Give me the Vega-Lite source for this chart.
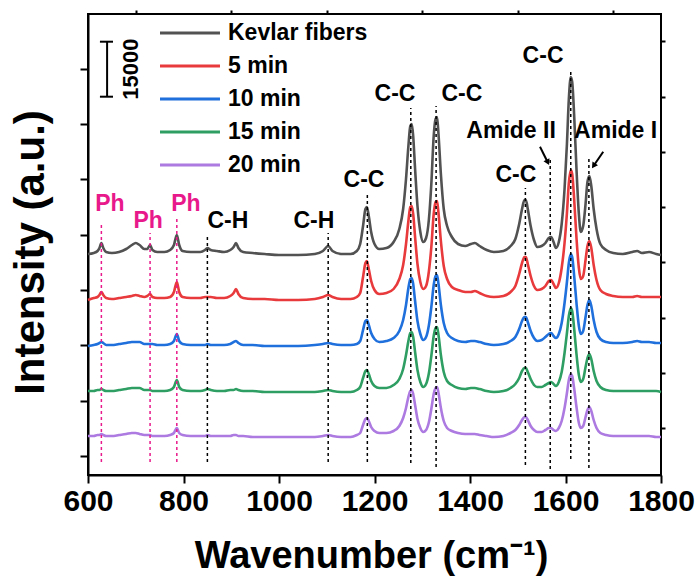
{
"$schema":"https://vega.github.io/schema/vega-lite/v6.json",
"width":573,"height":461,
"autosize":{"type":"none"},
"padding":{"left":88,"top":14,"right":37,"bottom":101},
"background":"white",
"config":{"view":{"stroke":"black","strokeWidth":2},"font":"Liberation Sans"},
"datasets":{
"spec":[
{"x":600,"s":"Kevlar fibers","y":202},{"x":612,"s":"Kevlar fibers","y":203},{"x":620,"s":"Kevlar fibers","y":205},{"x":624,"s":"Kevlar fibers","y":208},{"x":628,"s":"Kevlar fibers","y":213},{"x":632,"s":"Kevlar fibers","y":208},{"x":638,"s":"Kevlar fibers","y":204},{"x":650,"s":"Kevlar fibers","y":203},{"x":665,"s":"Kevlar fibers","y":204},{"x":680,"s":"Kevlar fibers","y":207},
{"x":692,"s":"Kevlar fibers","y":211},{"x":700,"s":"Kevlar fibers","y":213},{"x":708,"s":"Kevlar fibers","y":211},{"x":718,"s":"Kevlar fibers","y":207},{"x":724,"s":"Kevlar fibers","y":207},{"x":730,"s":"Kevlar fibers","y":211},{"x":735,"s":"Kevlar fibers","y":206},{"x":745,"s":"Kevlar fibers","y":204},{"x":760,"s":"Kevlar fibers","y":204},{"x":772,"s":"Kevlar fibers","y":206},
{"x":780,"s":"Kevlar fibers","y":211},{"x":786,"s":"Kevlar fibers","y":221},{"x":791,"s":"Kevlar fibers","y":211},{"x":798,"s":"Kevlar fibers","y":205},{"x":815,"s":"Kevlar fibers","y":204},{"x":835,"s":"Kevlar fibers","y":204},{"x":845,"s":"Kevlar fibers","y":206},{"x":850,"s":"Kevlar fibers","y":208},{"x":857,"s":"Kevlar fibers","y":206},{"x":870,"s":"Kevlar fibers","y":205},
{"x":885,"s":"Kevlar fibers","y":204},{"x":898,"s":"Kevlar fibers","y":206},{"x":905,"s":"Kevlar fibers","y":209},{"x":910,"s":"Kevlar fibers","y":213},{"x":915,"s":"Kevlar fibers","y":208},{"x":925,"s":"Kevlar fibers","y":204},{"x":945,"s":"Kevlar fibers","y":203},{"x":970,"s":"Kevlar fibers","y":202},{"x":1000,"s":"Kevlar fibers","y":201},{"x":1040,"s":"Kevlar fibers","y":201},
{"x":1075,"s":"Kevlar fibers","y":202},{"x":1092,"s":"Kevlar fibers","y":205},{"x":1103,"s":"Kevlar fibers","y":210},{"x":1112,"s":"Kevlar fibers","y":205},{"x":1130,"s":"Kevlar fibers","y":202},{"x":1150,"s":"Kevlar fibers","y":202},{"x":1163,"s":"Kevlar fibers","y":205},{"x":1170,"s":"Kevlar fibers","y":212},{"x":1176,"s":"Kevlar fibers","y":230},{"x":1181,"s":"Kevlar fibers","y":247},
{"x":1184,"s":"Kevlar fibers","y":249},{"x":1188,"s":"Kevlar fibers","y":240},{"x":1193,"s":"Kevlar fibers","y":224},{"x":1200,"s":"Kevlar fibers","y":212},{"x":1210,"s":"Kevlar fibers","y":207},{"x":1225,"s":"Kevlar fibers","y":208},{"x":1240,"s":"Kevlar fibers","y":214},{"x":1252,"s":"Kevlar fibers","y":227},{"x":1260,"s":"Kevlar fibers","y":247},{"x":1266,"s":"Kevlar fibers","y":277},
{"x":1271,"s":"Kevlar fibers","y":310},{"x":1275,"s":"Kevlar fibers","y":330},{"x":1278,"s":"Kevlar fibers","y":332},{"x":1281,"s":"Kevlar fibers","y":320},{"x":1285,"s":"Kevlar fibers","y":287},{"x":1290,"s":"Kevlar fibers","y":250},{"x":1296,"s":"Kevlar fibers","y":224},{"x":1302,"s":"Kevlar fibers","y":214},{"x":1308,"s":"Kevlar fibers","y":218},{"x":1314,"s":"Kevlar fibers","y":237},
{"x":1319,"s":"Kevlar fibers","y":272},{"x":1324,"s":"Kevlar fibers","y":320},{"x":1328,"s":"Kevlar fibers","y":337},{"x":1331,"s":"Kevlar fibers","y":339},{"x":1334,"s":"Kevlar fibers","y":322},{"x":1339,"s":"Kevlar fibers","y":282},{"x":1345,"s":"Kevlar fibers","y":247},{"x":1352,"s":"Kevlar fibers","y":230},{"x":1362,"s":"Kevlar fibers","y":219},{"x":1375,"s":"Kevlar fibers","y":212},
{"x":1390,"s":"Kevlar fibers","y":210},{"x":1402,"s":"Kevlar fibers","y":212},{"x":1410,"s":"Kevlar fibers","y":213},{"x":1420,"s":"Kevlar fibers","y":210},{"x":1435,"s":"Kevlar fibers","y":206},{"x":1450,"s":"Kevlar fibers","y":204},{"x":1470,"s":"Kevlar fibers","y":205},{"x":1485,"s":"Kevlar fibers","y":210},{"x":1495,"s":"Kevlar fibers","y":217},{"x":1503,"s":"Kevlar fibers","y":232},
{"x":1509,"s":"Kevlar fibers","y":247},{"x":1514,"s":"Kevlar fibers","y":256},{"x":1517,"s":"Kevlar fibers","y":256},{"x":1521,"s":"Kevlar fibers","y":247},{"x":1527,"s":"Kevlar fibers","y":230},{"x":1534,"s":"Kevlar fibers","y":216},{"x":1541,"s":"Kevlar fibers","y":209},{"x":1550,"s":"Kevlar fibers","y":210},{"x":1558,"s":"Kevlar fibers","y":213},{"x":1565,"s":"Kevlar fibers","y":218},
{"x":1570,"s":"Kevlar fibers","y":219},{"x":1575,"s":"Kevlar fibers","y":214},{"x":1580,"s":"Kevlar fibers","y":208},{"x":1586,"s":"Kevlar fibers","y":214},{"x":1592,"s":"Kevlar fibers","y":232},{"x":1598,"s":"Kevlar fibers","y":267},{"x":1603,"s":"Kevlar fibers","y":312},{"x":1607,"s":"Kevlar fibers","y":357},{"x":1611,"s":"Kevlar fibers","y":379},{"x":1614,"s":"Kevlar fibers","y":374},
{"x":1618,"s":"Kevlar fibers","y":342},{"x":1623,"s":"Kevlar fibers","y":287},{"x":1628,"s":"Kevlar fibers","y":242},{"x":1632,"s":"Kevlar fibers","y":224},{"x":1637,"s":"Kevlar fibers","y":230},{"x":1642,"s":"Kevlar fibers","y":252},{"x":1646,"s":"Kevlar fibers","y":274},{"x":1650,"s":"Kevlar fibers","y":280},{"x":1654,"s":"Kevlar fibers","y":270},{"x":1659,"s":"Kevlar fibers","y":247},
{"x":1665,"s":"Kevlar fibers","y":227},{"x":1673,"s":"Kevlar fibers","y":212},{"x":1685,"s":"Kevlar fibers","y":206},{"x":1700,"s":"Kevlar fibers","y":203},{"x":1720,"s":"Kevlar fibers","y":202},{"x":1740,"s":"Kevlar fibers","y":204},{"x":1750,"s":"Kevlar fibers","y":205},{"x":1760,"s":"Kevlar fibers","y":203},{"x":1775,"s":"Kevlar fibers","y":204},{"x":1790,"s":"Kevlar fibers","y":202},
{"x":1800,"s":"Kevlar fibers","y":201},

{"x":600,"s":"5 min","y":156},{"x":612,"s":"5 min","y":158},{"x":620,"s":"5 min","y":159},{"x":624,"s":"5 min","y":161},{"x":628,"s":"5 min","y":164},{"x":632,"s":"5 min","y":161},{"x":638,"s":"5 min","y":158},{"x":650,"s":"5 min","y":157},{"x":665,"s":"5 min","y":158},{"x":680,"s":"5 min","y":159},
{"x":692,"s":"5 min","y":160},{"x":700,"s":"5 min","y":161},{"x":708,"s":"5 min","y":160},{"x":718,"s":"5 min","y":159},{"x":724,"s":"5 min","y":160},{"x":730,"s":"5 min","y":162},{"x":735,"s":"5 min","y":159},{"x":745,"s":"5 min","y":158},{"x":760,"s":"5 min","y":158},{"x":772,"s":"5 min","y":159},
{"x":780,"s":"5 min","y":164},{"x":786,"s":"5 min","y":174},{"x":791,"s":"5 min","y":164},{"x":798,"s":"5 min","y":159},{"x":815,"s":"5 min","y":158},{"x":835,"s":"5 min","y":158},{"x":845,"s":"5 min","y":159},{"x":850,"s":"5 min","y":159},{"x":857,"s":"5 min","y":159},{"x":870,"s":"5 min","y":158},
{"x":885,"s":"5 min","y":158},{"x":898,"s":"5 min","y":160},{"x":905,"s":"5 min","y":163},{"x":910,"s":"5 min","y":167},{"x":915,"s":"5 min","y":162},{"x":925,"s":"5 min","y":158},{"x":945,"s":"5 min","y":157},{"x":970,"s":"5 min","y":157},{"x":1000,"s":"5 min","y":156},{"x":1040,"s":"5 min","y":156},
{"x":1075,"s":"5 min","y":157},{"x":1092,"s":"5 min","y":159},{"x":1103,"s":"5 min","y":161},{"x":1112,"s":"5 min","y":159},{"x":1130,"s":"5 min","y":157},{"x":1150,"s":"5 min","y":157},{"x":1163,"s":"5 min","y":159},{"x":1170,"s":"5 min","y":163},{"x":1176,"s":"5 min","y":179},{"x":1181,"s":"5 min","y":193},
{"x":1184,"s":"5 min","y":195},{"x":1188,"s":"5 min","y":187},{"x":1193,"s":"5 min","y":175},{"x":1200,"s":"5 min","y":166},{"x":1210,"s":"5 min","y":162},{"x":1225,"s":"5 min","y":163},{"x":1240,"s":"5 min","y":167},{"x":1252,"s":"5 min","y":177},{"x":1260,"s":"5 min","y":191},{"x":1266,"s":"5 min","y":212},
{"x":1271,"s":"5 min","y":235},{"x":1275,"s":"5 min","y":249},{"x":1278,"s":"5 min","y":250},{"x":1281,"s":"5 min","y":242},{"x":1285,"s":"5 min","y":219},{"x":1290,"s":"5 min","y":192},{"x":1296,"s":"5 min","y":174},{"x":1302,"s":"5 min","y":167},{"x":1308,"s":"5 min","y":170},{"x":1314,"s":"5 min","y":185},
{"x":1319,"s":"5 min","y":209},{"x":1324,"s":"5 min","y":242},{"x":1328,"s":"5 min","y":254},{"x":1331,"s":"5 min","y":255},{"x":1334,"s":"5 min","y":243},{"x":1339,"s":"5 min","y":215},{"x":1345,"s":"5 min","y":190},{"x":1352,"s":"5 min","y":177},{"x":1362,"s":"5 min","y":169},{"x":1375,"s":"5 min","y":166},
{"x":1390,"s":"5 min","y":164},{"x":1402,"s":"5 min","y":164},{"x":1410,"s":"5 min","y":165},{"x":1420,"s":"5 min","y":163},{"x":1435,"s":"5 min","y":160},{"x":1450,"s":"5 min","y":159},{"x":1470,"s":"5 min","y":160},{"x":1485,"s":"5 min","y":164},{"x":1495,"s":"5 min","y":170},{"x":1503,"s":"5 min","y":182},
{"x":1509,"s":"5 min","y":193},{"x":1514,"s":"5 min","y":199},{"x":1517,"s":"5 min","y":199},{"x":1521,"s":"5 min","y":192},{"x":1527,"s":"5 min","y":180},{"x":1534,"s":"5 min","y":170},{"x":1541,"s":"5 min","y":166},{"x":1550,"s":"5 min","y":167},{"x":1558,"s":"5 min","y":170},{"x":1565,"s":"5 min","y":175},
{"x":1570,"s":"5 min","y":176},{"x":1575,"s":"5 min","y":172},{"x":1580,"s":"5 min","y":168},{"x":1586,"s":"5 min","y":173},{"x":1592,"s":"5 min","y":188},{"x":1598,"s":"5 min","y":213},{"x":1603,"s":"5 min","y":243},{"x":1607,"s":"5 min","y":273},{"x":1611,"s":"5 min","y":286},{"x":1614,"s":"5 min","y":282},
{"x":1618,"s":"5 min","y":258},{"x":1623,"s":"5 min","y":218},{"x":1628,"s":"5 min","y":188},{"x":1632,"s":"5 min","y":177},{"x":1637,"s":"5 min","y":180},{"x":1642,"s":"5 min","y":196},{"x":1646,"s":"5 min","y":210},{"x":1650,"s":"5 min","y":215},{"x":1654,"s":"5 min","y":208},{"x":1659,"s":"5 min","y":191},
{"x":1665,"s":"5 min","y":176},{"x":1673,"s":"5 min","y":166},{"x":1685,"s":"5 min","y":162},{"x":1700,"s":"5 min","y":160},{"x":1720,"s":"5 min","y":159},{"x":1740,"s":"5 min","y":159},{"x":1750,"s":"5 min","y":160},{"x":1760,"s":"5 min","y":159},{"x":1775,"s":"5 min","y":159},{"x":1790,"s":"5 min","y":159},
{"x":1800,"s":"5 min","y":159},

{"x":600,"s":"10 min","y":110},{"x":612,"s":"10 min","y":111},{"x":620,"s":"10 min","y":112},{"x":624,"s":"10 min","y":113},{"x":628,"s":"10 min","y":114},{"x":632,"s":"10 min","y":113},{"x":638,"s":"10 min","y":111},{"x":650,"s":"10 min","y":111},{"x":665,"s":"10 min","y":112},{"x":680,"s":"10 min","y":113},
{"x":692,"s":"10 min","y":114},{"x":700,"s":"10 min","y":114},{"x":708,"s":"10 min","y":114},{"x":718,"s":"10 min","y":112},{"x":724,"s":"10 min","y":112},{"x":730,"s":"10 min","y":112},{"x":735,"s":"10 min","y":112},{"x":745,"s":"10 min","y":111},{"x":760,"s":"10 min","y":111},{"x":772,"s":"10 min","y":112},
{"x":780,"s":"10 min","y":115},{"x":786,"s":"10 min","y":122},{"x":791,"s":"10 min","y":115},{"x":798,"s":"10 min","y":112},{"x":815,"s":"10 min","y":111},{"x":835,"s":"10 min","y":111},{"x":845,"s":"10 min","y":111},{"x":850,"s":"10 min","y":112},{"x":857,"s":"10 min","y":111},{"x":870,"s":"10 min","y":111},
{"x":885,"s":"10 min","y":111},{"x":898,"s":"10 min","y":112},{"x":905,"s":"10 min","y":114},{"x":910,"s":"10 min","y":115},{"x":915,"s":"10 min","y":113},{"x":925,"s":"10 min","y":111},{"x":945,"s":"10 min","y":111},{"x":970,"s":"10 min","y":110},{"x":1000,"s":"10 min","y":110},{"x":1040,"s":"10 min","y":110},
{"x":1075,"s":"10 min","y":111},{"x":1092,"s":"10 min","y":112},{"x":1103,"s":"10 min","y":113},{"x":1112,"s":"10 min","y":112},{"x":1130,"s":"10 min","y":111},{"x":1150,"s":"10 min","y":111},{"x":1163,"s":"10 min","y":112},{"x":1170,"s":"10 min","y":115},{"x":1176,"s":"10 min","y":126},{"x":1181,"s":"10 min","y":135},
{"x":1184,"s":"10 min","y":136},{"x":1188,"s":"10 min","y":131},{"x":1193,"s":"10 min","y":123},{"x":1200,"s":"10 min","y":117},{"x":1210,"s":"10 min","y":114},{"x":1225,"s":"10 min","y":115},{"x":1240,"s":"10 min","y":118},{"x":1252,"s":"10 min","y":125},{"x":1260,"s":"10 min","y":136},{"x":1266,"s":"10 min","y":151},
{"x":1271,"s":"10 min","y":168},{"x":1275,"s":"10 min","y":177},{"x":1278,"s":"10 min","y":178},{"x":1281,"s":"10 min","y":172},{"x":1285,"s":"10 min","y":155},{"x":1290,"s":"10 min","y":135},{"x":1296,"s":"10 min","y":122},{"x":1302,"s":"10 min","y":116},{"x":1308,"s":"10 min","y":119},{"x":1314,"s":"10 min","y":131},
{"x":1319,"s":"10 min","y":149},{"x":1324,"s":"10 min","y":171},{"x":1328,"s":"10 min","y":180},{"x":1331,"s":"10 min","y":181},{"x":1334,"s":"10 min","y":172},{"x":1339,"s":"10 min","y":151},{"x":1345,"s":"10 min","y":133},{"x":1352,"s":"10 min","y":123},{"x":1362,"s":"10 min","y":118},{"x":1375,"s":"10 min","y":115},
{"x":1390,"s":"10 min","y":114},{"x":1402,"s":"10 min","y":115},{"x":1410,"s":"10 min","y":115},{"x":1420,"s":"10 min","y":114},{"x":1435,"s":"10 min","y":112},{"x":1450,"s":"10 min","y":111},{"x":1470,"s":"10 min","y":112},{"x":1485,"s":"10 min","y":115},{"x":1495,"s":"10 min","y":119},{"x":1503,"s":"10 min","y":127},
{"x":1509,"s":"10 min","y":135},{"x":1514,"s":"10 min","y":139},{"x":1517,"s":"10 min","y":139},{"x":1521,"s":"10 min","y":134},{"x":1527,"s":"10 min","y":125},{"x":1534,"s":"10 min","y":118},{"x":1541,"s":"10 min","y":115},{"x":1550,"s":"10 min","y":116},{"x":1558,"s":"10 min","y":119},{"x":1565,"s":"10 min","y":122},
{"x":1570,"s":"10 min","y":123},{"x":1575,"s":"10 min","y":120},{"x":1580,"s":"10 min","y":118},{"x":1586,"s":"10 min","y":122},{"x":1592,"s":"10 min","y":133},{"x":1598,"s":"10 min","y":153},{"x":1603,"s":"10 min","y":174},{"x":1607,"s":"10 min","y":193},{"x":1611,"s":"10 min","y":202},{"x":1614,"s":"10 min","y":199},
{"x":1618,"s":"10 min","y":181},{"x":1623,"s":"10 min","y":153},{"x":1628,"s":"10 min","y":130},{"x":1632,"s":"10 min","y":122},{"x":1637,"s":"10 min","y":125},{"x":1642,"s":"10 min","y":139},{"x":1646,"s":"10 min","y":151},{"x":1650,"s":"10 min","y":156},{"x":1654,"s":"10 min","y":150},{"x":1659,"s":"10 min","y":136},
{"x":1665,"s":"10 min","y":124},{"x":1673,"s":"10 min","y":117},{"x":1685,"s":"10 min","y":114},{"x":1700,"s":"10 min","y":113},{"x":1720,"s":"10 min","y":113},{"x":1740,"s":"10 min","y":114},{"x":1750,"s":"10 min","y":115},{"x":1760,"s":"10 min","y":114},{"x":1775,"s":"10 min","y":114},{"x":1790,"s":"10 min","y":113},
{"x":1800,"s":"10 min","y":113},

{"x":600,"s":"15 min","y":65},{"x":612,"s":"15 min","y":65},{"x":620,"s":"15 min","y":66},{"x":624,"s":"15 min","y":66},{"x":628,"s":"15 min","y":67},{"x":632,"s":"15 min","y":66},{"x":638,"s":"15 min","y":65},{"x":650,"s":"15 min","y":65},{"x":665,"s":"15 min","y":66},{"x":680,"s":"15 min","y":67},
{"x":692,"s":"15 min","y":68},{"x":700,"s":"15 min","y":68},{"x":708,"s":"15 min","y":68},{"x":718,"s":"15 min","y":66},{"x":724,"s":"15 min","y":66},{"x":730,"s":"15 min","y":66},{"x":735,"s":"15 min","y":65},{"x":745,"s":"15 min","y":65},{"x":760,"s":"15 min","y":65},{"x":772,"s":"15 min","y":66},
{"x":780,"s":"15 min","y":69},{"x":786,"s":"15 min","y":76},{"x":791,"s":"15 min","y":69},{"x":798,"s":"15 min","y":66},{"x":815,"s":"15 min","y":65},{"x":835,"s":"15 min","y":65},{"x":845,"s":"15 min","y":66},{"x":850,"s":"15 min","y":67},{"x":857,"s":"15 min","y":66},{"x":870,"s":"15 min","y":65},
{"x":885,"s":"15 min","y":65},{"x":898,"s":"15 min","y":66},{"x":905,"s":"15 min","y":66},{"x":910,"s":"15 min","y":67},{"x":915,"s":"15 min","y":66},{"x":925,"s":"15 min","y":65},{"x":945,"s":"15 min","y":65},{"x":970,"s":"15 min","y":64},{"x":1000,"s":"15 min","y":64},{"x":1040,"s":"15 min","y":64},
{"x":1075,"s":"15 min","y":64},{"x":1092,"s":"15 min","y":65},{"x":1103,"s":"15 min","y":66},{"x":1112,"s":"15 min","y":65},{"x":1130,"s":"15 min","y":64},{"x":1150,"s":"15 min","y":64},{"x":1163,"s":"15 min","y":66},{"x":1170,"s":"15 min","y":69},{"x":1176,"s":"15 min","y":78},{"x":1181,"s":"15 min","y":85},
{"x":1184,"s":"15 min","y":86},{"x":1188,"s":"15 min","y":82},{"x":1193,"s":"15 min","y":75},{"x":1200,"s":"15 min","y":70},{"x":1210,"s":"15 min","y":68},{"x":1225,"s":"15 min","y":68},{"x":1240,"s":"15 min","y":71},{"x":1252,"s":"15 min","y":77},{"x":1260,"s":"15 min","y":87},{"x":1266,"s":"15 min","y":101},
{"x":1271,"s":"15 min","y":115},{"x":1275,"s":"15 min","y":123},{"x":1278,"s":"15 min","y":124},{"x":1281,"s":"15 min","y":119},{"x":1285,"s":"15 min","y":104},{"x":1290,"s":"15 min","y":86},{"x":1296,"s":"15 min","y":74},{"x":1302,"s":"15 min","y":69},{"x":1308,"s":"15 min","y":72},{"x":1314,"s":"15 min","y":83},
{"x":1319,"s":"15 min","y":100},{"x":1324,"s":"15 min","y":120},{"x":1328,"s":"15 min","y":128},{"x":1331,"s":"15 min","y":129},{"x":1334,"s":"15 min","y":121},{"x":1339,"s":"15 min","y":101},{"x":1345,"s":"15 min","y":84},{"x":1352,"s":"15 min","y":75},{"x":1362,"s":"15 min","y":71},{"x":1375,"s":"15 min","y":68},
{"x":1390,"s":"15 min","y":67},{"x":1402,"s":"15 min","y":68},{"x":1410,"s":"15 min","y":68},{"x":1420,"s":"15 min","y":67},{"x":1435,"s":"15 min","y":65},{"x":1450,"s":"15 min","y":64},{"x":1470,"s":"15 min","y":65},{"x":1485,"s":"15 min","y":68},{"x":1495,"s":"15 min","y":72},{"x":1503,"s":"15 min","y":78},
{"x":1509,"s":"15 min","y":85},{"x":1514,"s":"15 min","y":88},{"x":1517,"s":"15 min","y":88},{"x":1521,"s":"15 min","y":84},{"x":1527,"s":"15 min","y":77},{"x":1534,"s":"15 min","y":71},{"x":1541,"s":"15 min","y":69},{"x":1550,"s":"15 min","y":69},{"x":1558,"s":"15 min","y":71},{"x":1565,"s":"15 min","y":73},
{"x":1570,"s":"15 min","y":74},{"x":1575,"s":"15 min","y":72},{"x":1580,"s":"15 min","y":70},{"x":1586,"s":"15 min","y":74},{"x":1592,"s":"15 min","y":84},{"x":1598,"s":"15 min","y":103},{"x":1603,"s":"15 min","y":123},{"x":1607,"s":"15 min","y":140},{"x":1611,"s":"15 min","y":148},{"x":1614,"s":"15 min","y":145},
{"x":1618,"s":"15 min","y":128},{"x":1623,"s":"15 min","y":102},{"x":1628,"s":"15 min","y":81},{"x":1632,"s":"15 min","y":74},{"x":1637,"s":"15 min","y":77},{"x":1642,"s":"15 min","y":89},{"x":1646,"s":"15 min","y":98},{"x":1650,"s":"15 min","y":102},{"x":1654,"s":"15 min","y":97},{"x":1659,"s":"15 min","y":85},
{"x":1665,"s":"15 min","y":75},{"x":1673,"s":"15 min","y":69},{"x":1685,"s":"15 min","y":66},{"x":1700,"s":"15 min","y":65},{"x":1720,"s":"15 min","y":65},{"x":1740,"s":"15 min","y":65},{"x":1750,"s":"15 min","y":65},{"x":1760,"s":"15 min","y":65},{"x":1775,"s":"15 min","y":65},{"x":1790,"s":"15 min","y":65},
{"x":1800,"s":"15 min","y":64},

{"x":600,"s":"20 min","y":20},{"x":612,"s":"20 min","y":20},{"x":620,"s":"20 min","y":21},{"x":624,"s":"20 min","y":21},{"x":628,"s":"20 min","y":22},{"x":632,"s":"20 min","y":21},{"x":638,"s":"20 min","y":20},{"x":650,"s":"20 min","y":20},{"x":665,"s":"20 min","y":21},{"x":680,"s":"20 min","y":22},
{"x":692,"s":"20 min","y":23},{"x":700,"s":"20 min","y":23},{"x":708,"s":"20 min","y":22},{"x":718,"s":"20 min","y":21},{"x":724,"s":"20 min","y":21},{"x":730,"s":"20 min","y":21},{"x":735,"s":"20 min","y":20},{"x":745,"s":"20 min","y":20},{"x":760,"s":"20 min","y":20},{"x":772,"s":"20 min","y":21},
{"x":780,"s":"20 min","y":23},{"x":786,"s":"20 min","y":28},{"x":791,"s":"20 min","y":23},{"x":798,"s":"20 min","y":21},{"x":815,"s":"20 min","y":20},{"x":835,"s":"20 min","y":20},{"x":845,"s":"20 min","y":20},{"x":850,"s":"20 min","y":21},{"x":857,"s":"20 min","y":20},{"x":870,"s":"20 min","y":20},
{"x":885,"s":"20 min","y":20},{"x":898,"s":"20 min","y":20},{"x":905,"s":"20 min","y":21},{"x":910,"s":"20 min","y":21},{"x":915,"s":"20 min","y":20},{"x":925,"s":"20 min","y":20},{"x":945,"s":"20 min","y":19},{"x":970,"s":"20 min","y":19},{"x":1000,"s":"20 min","y":19},{"x":1040,"s":"20 min","y":19},
{"x":1075,"s":"20 min","y":19},{"x":1092,"s":"20 min","y":20},{"x":1103,"s":"20 min","y":21},{"x":1112,"s":"20 min","y":20},{"x":1130,"s":"20 min","y":19},{"x":1150,"s":"20 min","y":19},{"x":1163,"s":"20 min","y":21},{"x":1170,"s":"20 min","y":23},{"x":1176,"s":"20 min","y":31},{"x":1181,"s":"20 min","y":37},
{"x":1184,"s":"20 min","y":38},{"x":1188,"s":"20 min","y":35},{"x":1193,"s":"20 min","y":29},{"x":1200,"s":"20 min","y":25},{"x":1210,"s":"20 min","y":23},{"x":1225,"s":"20 min","y":23},{"x":1240,"s":"20 min","y":25},{"x":1252,"s":"20 min","y":30},{"x":1260,"s":"20 min","y":38},{"x":1266,"s":"20 min","y":48},
{"x":1271,"s":"20 min","y":59},{"x":1275,"s":"20 min","y":65},{"x":1278,"s":"20 min","y":66},{"x":1281,"s":"20 min","y":62},{"x":1285,"s":"20 min","y":51},{"x":1290,"s":"20 min","y":37},{"x":1296,"s":"20 min","y":28},{"x":1302,"s":"20 min","y":24},{"x":1308,"s":"20 min","y":26},{"x":1314,"s":"20 min","y":34},
{"x":1319,"s":"20 min","y":47},{"x":1324,"s":"20 min","y":62},{"x":1328,"s":"20 min","y":68},{"x":1331,"s":"20 min","y":69},{"x":1334,"s":"20 min","y":63},{"x":1339,"s":"20 min","y":48},{"x":1345,"s":"20 min","y":35},{"x":1352,"s":"20 min","y":28},{"x":1362,"s":"20 min","y":25},{"x":1375,"s":"20 min","y":23},
{"x":1390,"s":"20 min","y":22},{"x":1402,"s":"20 min","y":22},{"x":1410,"s":"20 min","y":22},{"x":1420,"s":"20 min","y":21},{"x":1435,"s":"20 min","y":20},{"x":1450,"s":"20 min","y":19},{"x":1470,"s":"20 min","y":20},{"x":1485,"s":"20 min","y":23},{"x":1495,"s":"20 min","y":26},{"x":1503,"s":"20 min","y":31},
{"x":1509,"s":"20 min","y":36},{"x":1514,"s":"20 min","y":39},{"x":1517,"s":"20 min","y":39},{"x":1521,"s":"20 min","y":36},{"x":1527,"s":"20 min","y":30},{"x":1534,"s":"20 min","y":26},{"x":1541,"s":"20 min","y":24},{"x":1550,"s":"20 min","y":24},{"x":1558,"s":"20 min","y":26},{"x":1565,"s":"20 min","y":28},
{"x":1570,"s":"20 min","y":28},{"x":1575,"s":"20 min","y":26},{"x":1580,"s":"20 min","y":25},{"x":1586,"s":"20 min","y":28},{"x":1592,"s":"20 min","y":35},{"x":1598,"s":"20 min","y":48},{"x":1603,"s":"20 min","y":63},{"x":1607,"s":"20 min","y":76},{"x":1611,"s":"20 min","y":82},{"x":1614,"s":"20 min","y":80},
{"x":1618,"s":"20 min","y":68},{"x":1623,"s":"20 min","y":49},{"x":1628,"s":"20 min","y":33},{"x":1632,"s":"20 min","y":28},{"x":1637,"s":"20 min","y":30},{"x":1642,"s":"20 min","y":39},{"x":1646,"s":"20 min","y":46},{"x":1650,"s":"20 min","y":49},{"x":1654,"s":"20 min","y":45},{"x":1659,"s":"20 min","y":36},
{"x":1665,"s":"20 min","y":28},{"x":1673,"s":"20 min","y":23},{"x":1685,"s":"20 min","y":21},{"x":1700,"s":"20 min","y":20},{"x":1720,"s":"20 min","y":20},{"x":1740,"s":"20 min","y":20},{"x":1750,"s":"20 min","y":20},{"x":1760,"s":"20 min","y":20},{"x":1775,"s":"20 min","y":20},{"x":1790,"s":"20 min","y":19},
{"x":1800,"s":"20 min","y":19}
],
"legendrows":[
{"s":"Kevlar fibers","x":750.8,"x2":876.4,"xt":893.2,"y":423},
{"s":"5 min","x":750.8,"x2":876.4,"xt":893.2,"y":390},
{"s":"10 min","x":750.8,"x2":876.4,"xt":893.2,"y":357},
{"s":"15 min","x":750.8,"x2":876.4,"xt":893.2,"y":324},
{"s":"20 min","x":750.8,"x2":876.4,"xt":893.2,"y":291}
],
"refs":[
{"x":628,"y":-6,"y2":234,"k":"Ph"},{"x":730,"y":-6,"y2":223,"k":"Ph"},{"x":786,"y":-6,"y2":238,"k":"Ph"},
{"x":850,"y":-6,"y2":221,"k":"bond"},{"x":1103,"y":-6,"y2":223,"k":"bond"},{"x":1185,"y":-6,"y2":263,"k":"bond"},
{"x":1276,"y":-7,"y2":348,"k":"bond"},{"x":1329,"y":-11,"y2":350,"k":"bond"},{"x":1516,"y":-9,"y2":268,"k":"bond"},
{"x":1568,"y":-13,"y2":299,"k":"bond"},{"x":1611,"y":-3,"y2":387,"k":"bond"},{"x":1649,"y":-12,"y2":299,"k":"bond"}
],
"labels":[
{"x":646,"y":252,"t":"Ph","k":"Ph"},{"x":726,"y":235,"t":"Ph","k":"Ph"},{"x":805,"y":252,"t":"Ph","k":"Ph"},
{"x":893,"y":235,"t":"C-H","k":"bond"},{"x":1073,"y":235,"t":"C-H","k":"bond"},{"x":1178,"y":276,"t":"C-C","k":"bond"},
{"x":1243,"y":362,"t":"C-C","k":"bond"},{"x":1383,"y":362,"t":"C-C","k":"bond"},{"x":1496,"y":281,"t":"C-C","k":"bond"},
{"x":1486,"y":325,"t":"Amide II","k":"bond"},{"x":1705,"y":325,"t":"Amide I","k":"bond"},{"x":1553,"y":400,"t":"C-C","k":"bond"}
],
"segs":[
{"x":640,"x2":640,"y":359.3,"y2":414.3},{"x":625,"x2":652.4,"y":414.3,"y2":414.3},{"x":625,"x2":652.4,"y":359.3,"y2":359.3},
{"x":1546.6,"x2":1562,"y":309.3,"y2":294.5},{"x":1679,"x2":1660,"y":304.3,"y2":291}
]
},
"resolve":{"axis":{"x":"independent","y":"independent"}},
"layer":[
{"data":{"name":"spec"},"mark":{"type":"line","strokeWidth":2.6,"interpolate":"monotone"},
"encoding":{
"x":{"field":"x","type":"quantitative","scale":{"domain":[600,1800],"nice":false,"zero":false},
"axis":{"values":[600,800,1000,1200,1400,1600,1800],"format":"d","tickSize":8,"tickWidth":2,"tickColor":"black","domainColor":"black","domainWidth":2,"grid":false,
"labelFont":"Liberation Sans","labelFontWeight":"bold","labelFontSize":30,"labelColor":"black","labelPadding":3,"labelFlush":false,"labelOverlap":false,
"title":"Wavenumber (cm⁻¹)","titleFont":"Liberation Sans","titleFontWeight":"bold","titleFontSize":38,"titleColor":"black","titleX":283,"titleY":92,"titleBaseline":"alphabetic","titleAlign":"center"}},
"y":{"field":"y","type":"quantitative","scale":{"domain":[-19,442],"nice":false,"zero":false},
"axis":{"values":[0,55.3,110.6,165.9,221.2,276.5,331.8,387.1],"tickSize":8,"tickWidth":2,"tickColor":"black","domainColor":"black","domainWidth":2,"grid":false,"labels":false,
"title":"Intensity (a.u.)","titleFont":"Liberation Sans","titleFontWeight":"bold","titleFontSize":42,"titleColor":"black","titleX":-45,"titleY":238,"titleBaseline":"alphabetic","titleAlign":"center","titleAngle":-90}},
"color":{"field":"s","type":"nominal","scale":{"domain":["Kevlar fibers","5 min","10 min","15 min","20 min"],"range":["#525252","#e8393c","#1f6fdc","#2e9e62","#ac7ae0"]},"legend":null}
}},
{"data":{"name":"legendrows"},"mark":{"type":"rule","strokeWidth":3},
"encoding":{
"x":{"field":"x","type":"quantitative","scale":{"domain":[600,1800]},"axis":null},
"x2":{"field":"x2"},
"y":{"field":"y","type":"quantitative","scale":{"domain":[-19,442]},"axis":null},
"color":{"field":"s","type":"nominal","legend":null}
}},
{"data":{"name":"legendrows"},"mark":{"type":"text","font":"Liberation Sans","fontWeight":"bold","fontSize":23,"align":"left","baseline":"middle","color":"black"},
"encoding":{
"x":{"field":"xt","type":"quantitative","scale":{"domain":[600,1800]},"axis":null},
"y":{"field":"y","type":"quantitative","scale":{"domain":[-19,442]},"axis":null},
"text":{"field":"s"}
}},
{"data":{"name":"refs"},"mark":{"type":"rule","strokeWidth":1.5,"strokeDash":[3,3]},
"encoding":{
"x":{"field":"x","type":"quantitative","scale":{"domain":[600,1800]},"axis":null},
"y":{"field":"y","type":"quantitative","scale":{"domain":[-19,442]},"axis":null},
"y2":{"field":"y2"},
"stroke":{"field":"k","type":"nominal","scale":{"domain":["Ph","bond"],"range":["#e8198b","#000000"]},"legend":null}
}},
{"data":{"name":"labels"},"mark":{"type":"text","font":"Liberation Sans","fontWeight":"bold","fontSize":23,"align":"center","baseline":"middle"},
"encoding":{
"x":{"field":"x","type":"quantitative","scale":{"domain":[600,1800]},"axis":null},
"y":{"field":"y","type":"quantitative","scale":{"domain":[-19,442]},"axis":null},
"text":{"field":"t"},
"fill":{"field":"k","type":"nominal","scale":{"domain":["Ph","bond"],"range":["#e8198b","#000000"]},"legend":null}
}},
{"data":{"name":"segs"},"mark":{"type":"rule","strokeWidth":2,"color":"black"},
"encoding":{
"x":{"field":"x","type":"quantitative","scale":{"domain":[600,1800]},
"axis":{"values":[700,900,1100,1300,1500,1700],"tickSize":4,"tickWidth":2,"tickColor":"black","domain":false,"labels":false,"grid":false,"title":null}},
"x2":{"field":"x2"},
"y":{"field":"y","type":"quantitative","scale":{"domain":[-19,442]},
"axis":{"values":[27.65,82.95,138.25,193.55,248.85,304.15,359.45,414.75],"tickSize":4,"tickWidth":2,"tickColor":"black","domain":false,"labels":false,"grid":false,"title":null}},
"y2":{"field":"y2"}
}},
{"data":{"values":[{"x":1562,"y":294.5}]},"mark":{"type":"point","shape":"triangle","filled":true,"size":45,"angle":153,"color":"black","opacity":1},
"encoding":{
"x":{"field":"x","type":"quantitative","scale":{"domain":[600,1800]},"axis":null},
"y":{"field":"y","type":"quantitative","scale":{"domain":[-19,442]},"axis":null}
}},
{"data":{"values":[{"x":1660,"y":291}]},"mark":{"type":"point","shape":"triangle","filled":true,"size":45,"angle":214,"color":"black","opacity":1},
"encoding":{
"x":{"field":"x","type":"quantitative","scale":{"domain":[600,1800]},"axis":null},
"y":{"field":"y","type":"quantitative","scale":{"domain":[-19,442]},"axis":null}
}},
{"data":{"values":[{"x":691,"y":386.8,"t":"15000"}]},"mark":{"type":"text","font":"Liberation Sans","fontWeight":"bold","fontSize":22,"angle":270,"align":"center","baseline":"middle","color":"black"},
"encoding":{
"x":{"field":"x","type":"quantitative","scale":{"domain":[600,1800]},"axis":null},
"y":{"field":"y","type":"quantitative","scale":{"domain":[-19,442]},"axis":null},
"text":{"field":"t"}
}}
]
}
